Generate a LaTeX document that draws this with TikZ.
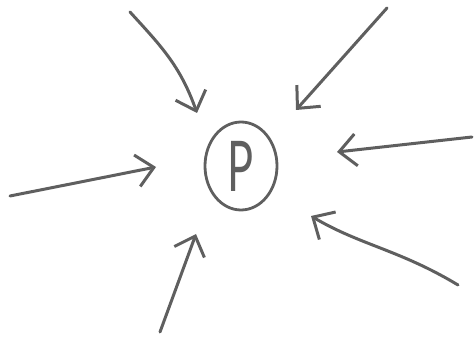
\documentclass[tikz,border=0pt]{standalone}
\usepackage{fontspec}
\usepackage{graphicx}
\setsansfont{Lato}
\usetikzlibrary{arrows.meta,shapes.geometric}
\definecolor{ink}{RGB}{95,95,95}
\tikzset{
  sketch/.style={draw=ink,line width=3pt,line cap=round,line join=round,
    -{Straight Barb[length=17pt,width=32pt,line width=3pt]}},
  pnode/.style={ellipse,draw=ink,line width=2.8pt,minimum width=72pt,minimum height=88pt,
    inner sep=0pt,text=ink,font=\sffamily\fontsize{70}{70}\selectfont}}
\begin{document}
\begin{tikzpicture}[x=1pt,y=-1pt]
\useasboundingbox (0,0) rectangle (474,339);
\node[pnode] (P) at (241,166) {\scalebox{0.62}[1]{P}};
\coordinate (s1) at (130,12);  \coordinate (t1) at (197,113);
\coordinate (s2) at (387,8);   \coordinate (t2) at (296,110);
\coordinate (s3) at (472,137); \coordinate (t3) at (337,152);
\coordinate (s4) at (458,285); \coordinate (t4) at (311,216);
\coordinate (s5) at (160,332); \coordinate (t5) at (196,234);
\coordinate (s6) at (10,196);  \coordinate (t6) at (156,167);
\draw[sketch] (s1) .. controls (160,45) and (180,65) .. (t1);
\draw[sketch] (s2) -- (t2);
\draw[sketch] (s3) -- (t3);
\draw[sketch] (s4) .. controls (400,250) and (360,245) .. (t4);
\draw[sketch] (s5) -- (t5);
\draw[sketch] (s6) -- (t6);
\end{tikzpicture}
\end{document}
